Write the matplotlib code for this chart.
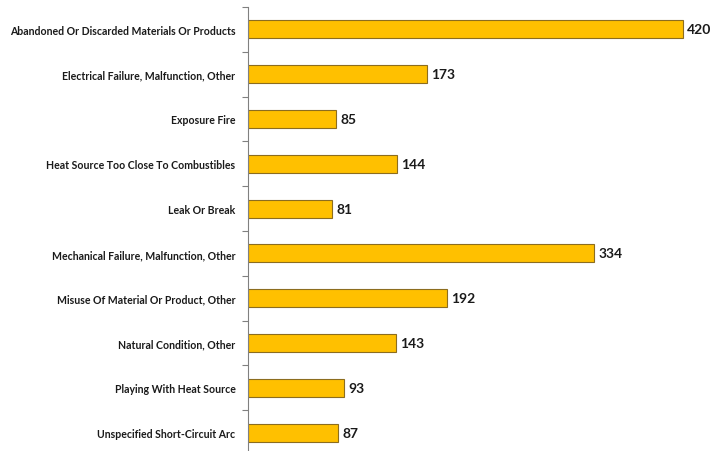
import matplotlib.pyplot as plt
import numpy as np

plt.rcParams['font.family'] = ['Lato', 'DejaVu Sans']

causes = [
    "Abandoned Or Discarded Materials Or Products",
    "Electrical Failure, Malfunction, Other",
    "Exposure Fire",
    "Heat Source Too Close To Combustibles",
    "Leak Or Break",
    "Mechanical Failure, Malfunction, Other",
    "Misuse Of Material Or Product, Other",
    "Natural Condition, Other",
    "Playing With Heat Source",
    "Unspecified Short-Circuit Arc",
]
counts = [420, 173, 85, 144, 81, 334, 192, 143, 93, 87]

fig = plt.figure(figsize=(7.12, 4.52), dpi=100)
# axes runs a little past the bottom edge, like the cropped original
ax = fig.add_axes([248 / 712, -4 / 452, 464 / 712, 448 / 452])

y = np.arange(len(causes))
ax.barh(y, counts, height=0.4, color="#FFC000", edgecolor="#8C6D1F", linewidth=0.8)

for yi, v in zip(y, counts):
    ax.text(v + 4, yi, str(v), va="center", ha="left", fontsize=10,
            fontweight="bold", color="#1a1a1a")

ax.set_ylim(len(causes) - 0.5, -0.5)
ax.set_xlim(0, 448)
ax.set_yticks(y)
ax.set_yticklabels(causes, fontsize=7.6, fontweight="bold", color="#1a1a1a")
ax.tick_params(axis="y", which="major", length=0, pad=9)
ax.set_yticks(np.arange(-0.5, len(causes), 1), minor=True)
ax.tick_params(axis="y", which="minor", length=4, color="#808080", width=0.8)
ax.set_xticks([])

for side in ["top", "right", "bottom"]:
    ax.spines[side].set_visible(False)
ax.spines["left"].set_color("#808080")
ax.spines["left"].set_linewidth(0.8)

fig.savefig("out.png", dpi=100)
